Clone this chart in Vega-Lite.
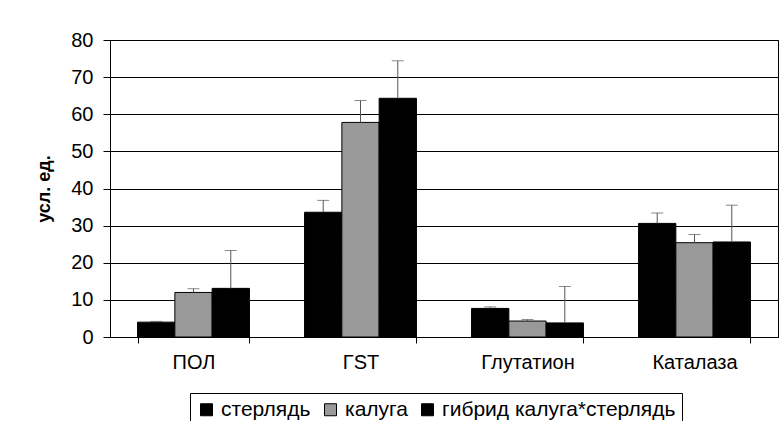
{
  "$schema": "https://vega.github.io/schema/vega-lite/v6.json",
  "width": 668,
  "height": 297,
  "autosize": {"type": "none"},
  "padding": {"left": 110, "top": 40, "right": 1, "bottom": 84},
  "background": "white",
  "config": {
    "font": "Liberation Sans",
    "view": {"stroke": "#000", "strokeWidth": 1},
    "axis": {"labelColor": "#000", "titleColor": "#000", "domainColor": "#000", "tickColor": "#000"}
  },
  "data": {
    "values": [
      {"cat": "ПОЛ", "series": "стерлядь", "value": 4.0, "err": 4.2},
      {"cat": "ПОЛ", "series": "калуга", "value": 12.0, "err": 13.0},
      {"cat": "ПОЛ", "series": "гибрид калуга*стерлядь", "value": 13.1, "err": 23.3},
      {"cat": "ГST", "series": "стерлядь", "value": 33.6, "err": 36.8},
      {"cat": "ГST", "series": "калуга", "value": 57.8, "err": 63.7},
      {"cat": "ГST", "series": "гибрид калуга*стерлядь", "value": 64.3, "err": 74.4},
      {"cat": "Глутатион", "series": "стерлядь", "value": 7.7, "err": 8.1},
      {"cat": "Глутатион", "series": "калуга", "value": 4.3, "err": 4.7},
      {"cat": "Глутатион", "series": "гибрид калуга*стерлядь", "value": 3.8, "err": 13.6},
      {"cat": "Каталаза", "series": "стерлядь", "value": 30.6, "err": 33.4},
      {"cat": "Каталаза", "series": "калуга", "value": 25.4, "err": 27.6},
      {"cat": "Каталаза", "series": "гибрид калуга*стерлядь", "value": 25.6, "err": 35.5}
    ]
  },
  "encoding": {
    "x": {
      "field": "cat",
      "type": "nominal",
      "sort": ["ПОЛ", "ГST", "Глутатион", "Каталаза"],
      "scale": {"paddingInner": 0.33, "paddingOuter": 0.165},
      "axis": {
        "title": null,
        "labelAngle": 0,
        "labelFontSize": 20,
        "labelPadding": 9,
        "tickBand": "extent",
        "tickSize": 6,
        "grid": false
      }
    },
    "xOffset": {
      "field": "series",
      "sort": ["стерлядь", "калуга", "гибрид калуга*стерлядь"]
    },
    "y": {
      "field": "value",
      "type": "quantitative",
      "scale": {"domain": [0, 80]},
      "axis": {
        "title": "усл. ед.",
        "titleFontSize": 18,
        "titleFontWeight": "bold",
        "titlePadding": 17,
        "values": [0, 10, 20, 30, 40, 50, 60, 70, 80],
        "labelFontSize": 20,
        "labelPadding": 10,
        "labelOverlap": false,
        "tickSize": 7,
        "grid": true,
        "gridColor": "#000",
        "gridOpacity": 1,
        "gridWidth": 1
      }
    }
  },
  "layer": [
    {
      "mark": {"type": "bar", "stroke": "#000", "strokeWidth": 1},
      "encoding": {
        "fill": {
          "field": "series",
          "type": "nominal",
          "scale": {
            "domain": ["стерлядь", "калуга", "гибрид калуга*стерлядь"],
            "range": ["#000000", "#999999", "#000000"]
          },
          "legend": {
            "title": null,
            "orient": "none",
            "legendX": 80,
            "legendY": 353,
            "direction": "horizontal",
            "strokeColor": "#000",
            "padding": 6,
            "labelFontSize": 21,
            "labelColor": "#000",
            "labelLimit": 400,
            "labelOffset": 4,
            "columnPadding": 9,
            "symbolType": "square",
            "symbolSize": 144,
            "symbolStrokeColor": "#000",
            "symbolStrokeWidth": 1,
            "symbolOpacity": 1
          }
        }
      }
    },
    {
      "mark": {"type": "rule", "color": "#555555", "strokeWidth": 1},
      "encoding": {
        "y2": {"field": "err"}
      }
    },
    {
      "mark": {"type": "tick", "color": "#555555", "size": 12, "thickness": 1},
      "encoding": {
        "y": {"field": "err", "type": "quantitative"}
      }
    }
  ]
}
